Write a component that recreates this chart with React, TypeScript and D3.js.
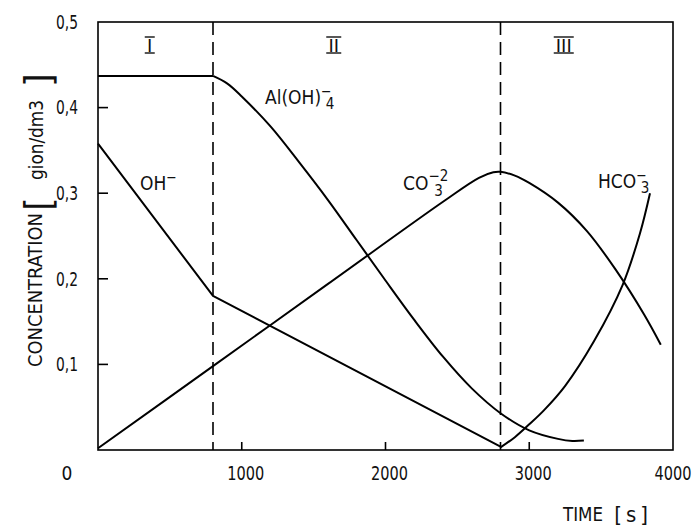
import * as d3 from 'd3';

// time [s] / concentration [gion/dm3]
const ohTime = [0, 800, 2800];
const ohConc = [0.358, 0.18, 0.004];

// Al(OH)4- : flat plateau up to 800 s, then a smooth decline
const alFlatTime = [0, 800];
const alFlatConc = [0.437, 0.437];
const alTime = [800, 900, 1000, 1200, 1400, 1600, 1800, 2000, 2200, 2400, 2600, 2800, 3000, 3200, 3300, 3380];
const alConc = [0.437, 0.428, 0.413, 0.378, 0.336, 0.292, 0.245, 0.198, 0.152, 0.109, 0.072, 0.043, 0.023, 0.013, 0.0105, 0.011];

const co3Time = [0, 800, 1600, 2400, 2650, 2750, 2800, 2900, 3000, 3200, 3400, 3600, 3800, 3915];
const co3Conc = [0.002, 0.098, 0.194, 0.29, 0.318, 0.3245, 0.325, 0.3205, 0.312, 0.289, 0.256, 0.211, 0.158, 0.123];

const hco3Time = [2800, 2900, 3000, 3100, 3250, 3450, 3650, 3770, 3840];
const hco3Conc = [0.003, 0.015, 0.03, 0.046, 0.075, 0.127, 0.193, 0.253, 0.3];

const stageBounds = [800, 2800];
const stageNames = ['I', 'II', 'III'];
const stageCenters = [360, 1640, 3240];

const yTicks = [0.1, 0.2, 0.3, 0.4];
const yTickLabels = ['0,1', '0,2', '0,3', '0,4', '0,5'];
const yLabelValues = [0.1, 0.2, 0.3, 0.4, 0.5];
const xTicks = [1000, 2000, 3000];
const xLabelValues = [1000, 2000, 3000, 4000];
const xTickLabels = ['1000', '2000', '3000', '4000'];

const FONT = "'Liberation Sans Narrow', 'DejaVu Sans Condensed', 'Liberation Sans', sans-serif";

const zip = (t: number[], v: number[]) => t.map((d, i) => [d, v[i]] as [number, number]);

export default function App() {
  const W = 698, H = 526;
  const x = d3.scaleLinear().domain([0, 4000]).range([98, 673]);
  const y = d3.scaleLinear().domain([0, 0.5]).range([450, 22]);

  const smooth = d3.line<[number, number]>()
    .x((d) => x(d[0]))
    .y((d) => y(d[1]))
    .curve(d3.curveCatmullRom.alpha(0.5));
  const straight = d3.line<[number, number]>()
    .x((d) => x(d[0]))
    .y((d) => y(d[1]));

  const curveStyle = { fill: 'none', stroke: '#000', strokeWidth: 2, strokeLinejoin: 'round' as const };
  const txt = { fontFamily: FONT, fill: '#111' };

  return (
    <svg width={W} height={H} style={{ position: 'absolute', left: 0, top: 0, background: '#fff' }}>
      {/* frame */}
      <rect x={x(0)} y={y(0.5)} width={x(4000) - x(0)} height={y(0) - y(0.5)}
        fill="none" stroke="#000" strokeWidth={1.6} />

      {/* stage boundaries */}
      {stageBounds.map((t) => (
        <line key={t} x1={x(t)} x2={x(t)} y1={y(0.5)} y2={y(0)}
          stroke="#000" strokeWidth={1.6} strokeDasharray="13 7" />
      ))}

      {/* ticks */}
      {yTicks.map((v) => (
        <line key={v} x1={x(0)} x2={x(0) + 10} y1={y(v)} y2={y(v)} stroke="#000" strokeWidth={1.6} />
      ))}
      {xTicks.map((t) => (
        <line key={t} x1={x(t)} x2={x(t)} y1={y(0)} y2={y(0) - 8} stroke="#000" strokeWidth={1.6} />
      ))}

      {/* tick labels */}
      {yLabelValues.map((v, i) => (
        <text key={v} x={x(0) - 20} y={y(v)} dy="0.36em" textAnchor="end" fontSize={19}
          textLength={22} lengthAdjust="spacingAndGlyphs" {...txt}>{yTickLabels[i]}</text>
      ))}
      <text x={67} y={y(0) + 23} dy="0.36em" textAnchor="middle" fontSize={19} {...txt}>0</text>
      {xLabelValues.map((t, i) => (
        <text key={t} x={Math.min(x(t) + 4, 673)} y={y(0) + 23} dy="0.36em" textAnchor="middle" fontSize={19}
          textLength={37} lengthAdjust="spacingAndGlyphs" {...txt}>{xTickLabels[i]}</text>
      ))}

      {/* axis titles */}
      <text x={603} y={521} textAnchor="end" fontSize={19} textLength={40}
        lengthAdjust="spacingAndGlyphs" {...txt}>TIME</text>
      <text x={648} y={522} textAnchor="end" fontSize={22} {...txt}>
        [<tspan dx={4}>s</tspan><tspan dx={4}>]</tspan>
      </text>
      <text transform="translate(42,290) rotate(-90)" textAnchor="middle" fontSize={19}
        textLength={154} lengthAdjust="spacingAndGlyphs" {...txt}>CONCENTRATION</text>
      <text transform="translate(43,140) rotate(-90)" textAnchor="middle" fontSize={19}
        textLength={80} lengthAdjust="spacingAndGlyphs" {...txt}>gion/dm3</text>
      <text transform="translate(51,204) rotate(-90)" textAnchor="middle" fontSize={38} {...txt}>[</text>
      <text transform="translate(51,80) rotate(-90)" textAnchor="middle" fontSize={38} {...txt}>]</text>

      {/* stage numerals */}
      {stageNames.map((n, i) => {
        const cx = x(stageCenters[i]);
        const w = n.length * 5 + 5;
        return (
          <g key={n}>
            <text x={cx} y={52} textAnchor="middle" fontSize={18} fontFamily="'DejaVu Sans', sans-serif"
              fill="#111">{n}</text>
            <line x1={cx - w / 2} x2={cx + w / 2} y1={37} y2={37} stroke="#111" strokeWidth={1.4} />
            <line x1={cx - w / 2} x2={cx + w / 2} y1={53} y2={53} stroke="#111" strokeWidth={1.4} />
          </g>
        );
      })}

      {/* curves */}
      <path d={straight(zip(ohTime, ohConc)) ?? ''} {...curveStyle} />
      <path d={straight(zip(alFlatTime, alFlatConc)) ?? ''} {...curveStyle} />
      <path d={smooth(zip(alTime, alConc)) ?? ''} {...curveStyle} />
      <path d={smooth(zip(co3Time, co3Conc)) ?? ''} {...curveStyle} />
      <path d={smooth(zip(hco3Time, hco3Conc)) ?? ''} {...curveStyle} />

      {/* species labels */}
      <text x={140} y={190} fontSize={19} {...txt}>OH<tspan dy={-8} fontSize={14}>−</tspan></text>
      <text x={265} y={104} fontSize={19} {...txt}>
        Al(OH)<tspan dy={-8} fontSize={14}>−</tspan><tspan dx={-6} dy={13} fontSize={15}>4</tspan>
      </text>
      <text x={403} y={190} fontSize={19} {...txt}>
        CO<tspan dy={-9} fontSize={15}>−2</tspan><tspan dx={-14} dy={15} fontSize={15}>3</tspan>
      </text>
      <text x={598} y={188} fontSize={19} {...txt}>
        HCO<tspan dy={-8} fontSize={14}>−</tspan><tspan dx={-6} dy={13} fontSize={15}>3</tspan>
      </text>
    </svg>
  );
}
